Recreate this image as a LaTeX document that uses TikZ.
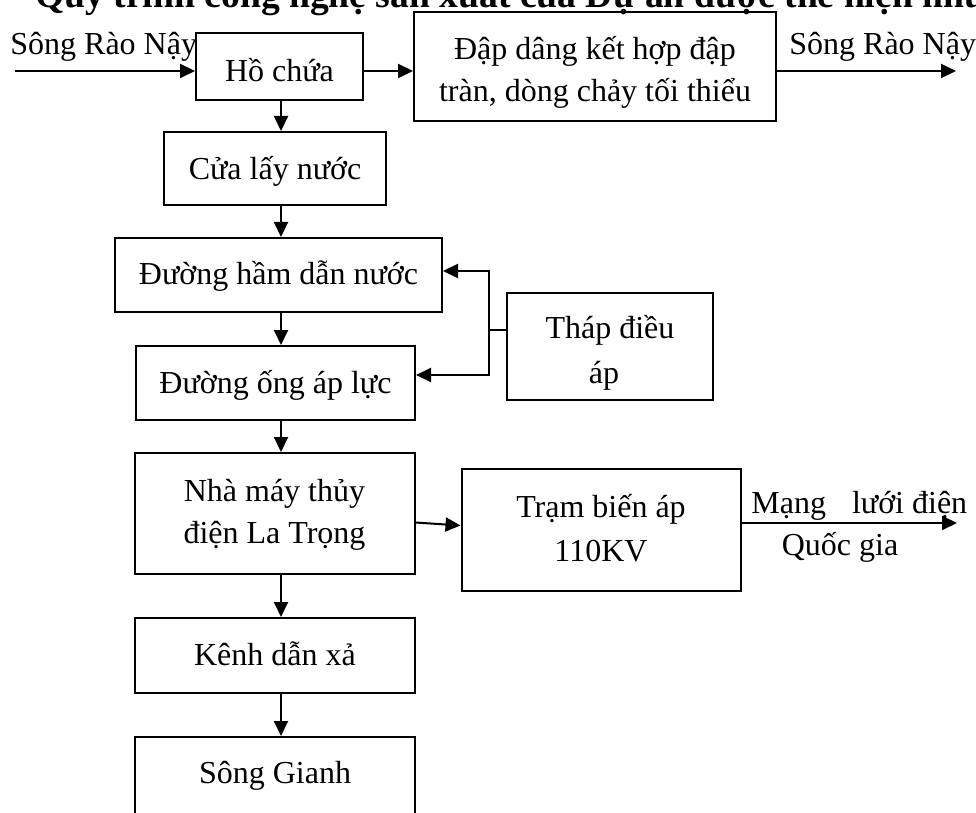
\documentclass[tikz,border=0pt]{standalone}
\usepackage{fontspec}
\setmainfont{Liberation Serif}
\usetikzlibrary{arrows.meta}
\begin{document}
\begin{tikzpicture}[x=0.5pt,y=-0.5pt,
  box/.style={draw,line width=1pt,inner sep=0pt,align=center,font=\fontsize{16}{21}\selectfont},
  lab/.style={inner sep=0pt,font=\fontsize{16}{21}\selectfont},
  ttl/.style={inner sep=0pt,font=\bfseries\fontsize{18.8}{22}\selectfont},
  arr/.style={line width=1pt,-{Triangle[length=7.5pt,width=7pt]}},
  ln/.style={line width=1pt}]
\useasboundingbox (0,0) rectangle (976,813);
\node[ttl,anchor=base west] (title) at (35,8) {Quy trình công nghệ sản xuất của Dự án được thể hiện như};
\coordinate (riverin) at (15,71);
\coordinate (riverout) at (956,71);
\coordinate (spine) at (281,0);
\coordinate (tee) at (489,330);
\coordinate (grid) at (957,523);
\node[lab,anchor=base west] (srcname) at (10,55) {Sông Rào Nậy};
\node[lab,anchor=base west] (outname) at (789,55) {Sông Rào Nậy};
\node[box,minimum width=83.5pt,minimum height=33.5pt,text height=17.5pt,text depth=2pt] (ho) at (279.5,66.5) {Hồ chứa};
\node[box,minimum width=181pt,minimum height=54.5pt,text height=37.5pt,text depth=2pt] (dap) at (595,66.5) {Đập dâng kết hợp đập\\tràn, dòng chảy tối thiểu};
\node[box,minimum width=111pt,minimum height=36.5pt,text height=13.5pt,text depth=2pt] (cua) at (275,168.5) {Cửa lấy nước};
\node[box,minimum width=163.5pt,minimum height=37pt,text height=12pt,text depth=2pt] (ham) at (278.5,275) {Đường hầm dẫn nước};
\node[box,minimum width=139.5pt,minimum height=37pt,text height=12.3pt,text depth=2pt] (ong) at (275.5,383) {Đường ống áp lực};
\node[box,minimum width=103pt,minimum height=53.5pt,text height=38.5pt,text depth=2pt] (thap) at (610,346.5) {Tháp điều\\[1.5pt]áp\hspace*{6pt}};
\node[box,minimum width=140pt,minimum height=60.5pt,text height=31.5pt,text depth=2pt] (nha) at (274.5,513.5) {Nhà máy thủy\\điện La Trọng};
\node[box,minimum width=139.5pt,minimum height=61pt,text height=33pt,text depth=2pt] (tram) at (601,530) {Trạm biến áp\\[1pt]110KV};
\node[box,minimum width=140pt,minimum height=37.5pt,text height=11.5pt,text depth=2pt] (kenh) at (275,655.5) {Kênh dẫn xả};
\node[box,minimum width=140pt,minimum height=42pt,text height=6pt,text depth=2pt] (song) at (275,779) {Sông Gianh};
\node[lab,anchor=base west] (gridname) at (751,513) {Mạng\hspace{13pt}lưới điện};
\node[lab,anchor=base] (gridname2) at (840,555) {Quốc gia};
\draw[arr] (riverin) -- (riverin -| ho.west);
\draw[arr] (riverin -| ho.east) -- (riverin -| dap.west);
\draw[arr] (riverin -| dap.east) -- (riverout);
\draw[arr] (ho.south -| spine) -- (cua.north -| spine);
\draw[arr] (cua.south -| spine) -- (ham.north -| spine);
\draw[arr] (ham.south -| spine) -- (ong.north -| spine);
\draw[arr] (ong.south -| spine) -- (nha.north -| spine);
\draw[arr] (nha.south -| spine) -- (kenh.north -| spine);
\draw[arr] (kenh.south -| spine) -- (song.north -| spine);
\draw[ln] (tee -| thap.west) -- (tee);
\draw[arr] (tee) |- ([yshift=2pt]ham.east);
\draw[arr] (tee) |- ([yshift=4pt]ong.east);
\draw[arr] ([yshift=-4.5pt]nha.east) -- ([yshift=2.25pt]tram.west);
\draw[arr] (grid -| tram.east) -- (grid);
\end{tikzpicture}
\end{document}
